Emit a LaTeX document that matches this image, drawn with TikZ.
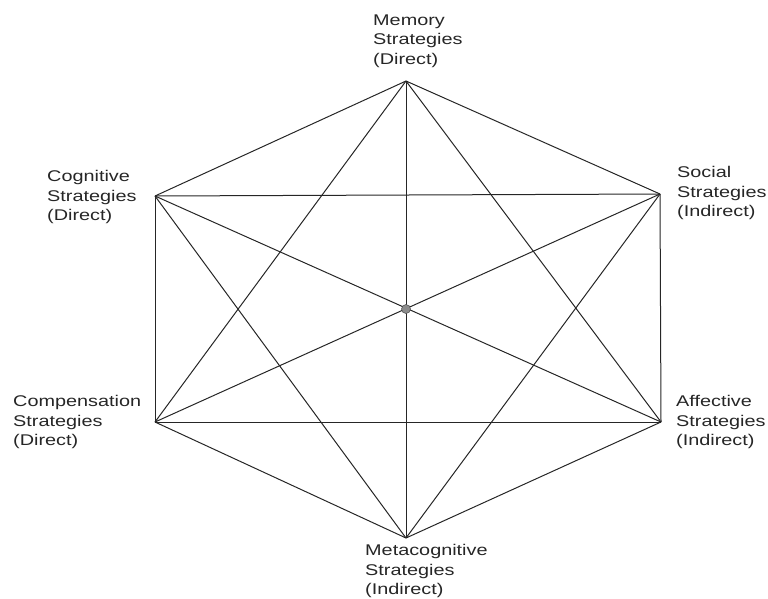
\documentclass[tikz,border=0pt]{standalone}
\usepackage{fontspec}
\setmainfont{Liberation Sans}[FakeStretch=1.28]
\begin{document}
\begin{tikzpicture}[x=1pt,y=-1pt,
  edge/.style={line width=1pt, draw=black!85},
  lbl/.style={anchor=west, inner sep=0pt, align=left, text=black!85,
    font=\fontsize{15.5}{19.5}\selectfont},
  hub/.style={circle, fill=black!45, draw=black!70, line width=0.5pt, inner sep=0pt, minimum size=9pt}]
\useasboundingbox (0,0) rectangle (768,598);
\coordinate (T) at (406,81);
\coordinate (UL) at (155,196);
\coordinate (UR) at (660,194);
\coordinate (LL) at (155,422);
\coordinate (LR) at (661,422);
\coordinate (B) at (406,538);
\foreach \a/\b in {T/UL,T/UR,UL/LL,UR/LR,LL/B,LR/B,
                   T/LL,T/LR,LL/LR,UL/UR,UL/B,UR/B,
                   T/B,UL/LR,UR/LL}
  \draw[edge] (\a) -- (\b);
\node[hub] (C) at (406,309) {};
\node[lbl] (mem) at (373,41) {Memory\\Strategies\\(Direct)};
\node[lbl] (cog) at (47,197) {Cognitive\\Strategies\\(Direct)};
\node[lbl] (soc) at (677,193) {Social\\Strategies\\(Indirect)};
\node[lbl] (com) at (13,422) {Compensation\\Strategies\\(Direct)};
\node[lbl] (aff) at (676,422) {Affective\\Strategies\\(Indirect)};
\node[lbl] (met) at (365,571) {Metacognitive\\Strategies\\(Indirect)};
\end{tikzpicture}
\end{document}
